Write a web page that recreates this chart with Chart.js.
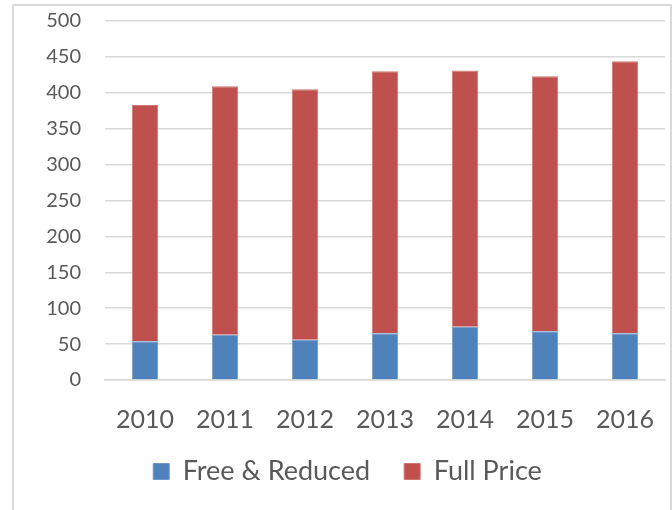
<!DOCTYPE html>
<html>
<head>
<meta charset="utf-8">
<script src="https://cdn.jsdelivr.net/npm/chart.js@4/dist/chart.umd.min.js"></script>
<style>
  html, body { margin: 0; padding: 0; background: #fff; }
  #frame { position: absolute; left: 12px; top: 4px; width: 660px; height: 520px; border: 2px solid #d9d9d9; box-sizing: border-box; }
  #wrap { position: absolute; left: 0; top: 0; width: 672px; height: 510px; }
</style>
</head>
<body>
<div id="frame"></div>
<div id="wrap"><canvas id="chartBar"></canvas></div>
<script>
const years = ["2010", "2011", "2012", "2013", "2014", "2015", "2016"];
const freeReduced = [54, 63, 56, 65, 74, 68, 65];
const fullPrice = [329, 346, 349, 365, 357, 355, 379];
const yTicks = [0, 50, 100, 150, 200, 250, 300, 350, 400, 450, 500];

const data = {
  labels: years,
  datasets: [
    { label: "Free & Reduced", backgroundColor: "#4f81bd", borderColor: "#6f97c9", borderWidth: 1, data: freeReduced },
    { label: "Full Price", backgroundColor: "#c0504d", borderColor: "#d27572", borderWidth: 1, data: fullPrice },
  ],
};

// nudge things after layout: let x labels draw below the trimmed axis box, move legend right
const tweak = {
  id: "tweak",
  afterLayout(chart) {
    chart.scales.x.bottom += 30;
    chart.legend.left += 15;
    chart.legend.right += 15;
  },
};

const config = {
  type: "bar",
  data,
  plugins: [tweak],
  options: {
    responsive: false,
    animation: false,
    layout: { padding: { top: 21, right: 7, left: 0, bottom: 15 } },
    datasets: { bar: { barPercentage: 1, categoryPercentage: 0.33 } },
    scales: {
      x: {
        stacked: true,
        grid: { display: false },
        border: { color: "#d9d9d9", width: 1.5 },
        ticks: { color: "#595959", font: { family: "Lato", size: 25 }, padding: 17, maxRotation: 0 },
        afterFit: (s) => { s.height = 44; },
      },
      y: {
        stacked: true,
        min: 0,
        max: 500,
        afterBuildTicks: (s) => { s.ticks = yTicks.map((v) => ({ value: v })); },
        afterFit: (s) => { s.width = 105; s.paddingTop = 0; s.paddingBottom = 0; },
        grid: { color: "#d9d9d9", lineWidth: 1.5, drawTicks: false },
        border: { display: false },
        ticks: { color: "#595959", font: { family: "Lato", size: 20 }, padding: 24 },
      },
    },
    plugins: {
      legend: {
        position: "bottom",
        labels: { color: "#595959", font: { family: "Lato", size: 27 }, boxWidth: 16, boxHeight: 16, padding: 34 },
      },
      tooltip: { enabled: false },
    },
  },
};

const c = document.getElementById("chartBar");
c.width = 672;
c.height = 510;
var chartBar = new Chart(c, config);
</script>
</body>
</html>
